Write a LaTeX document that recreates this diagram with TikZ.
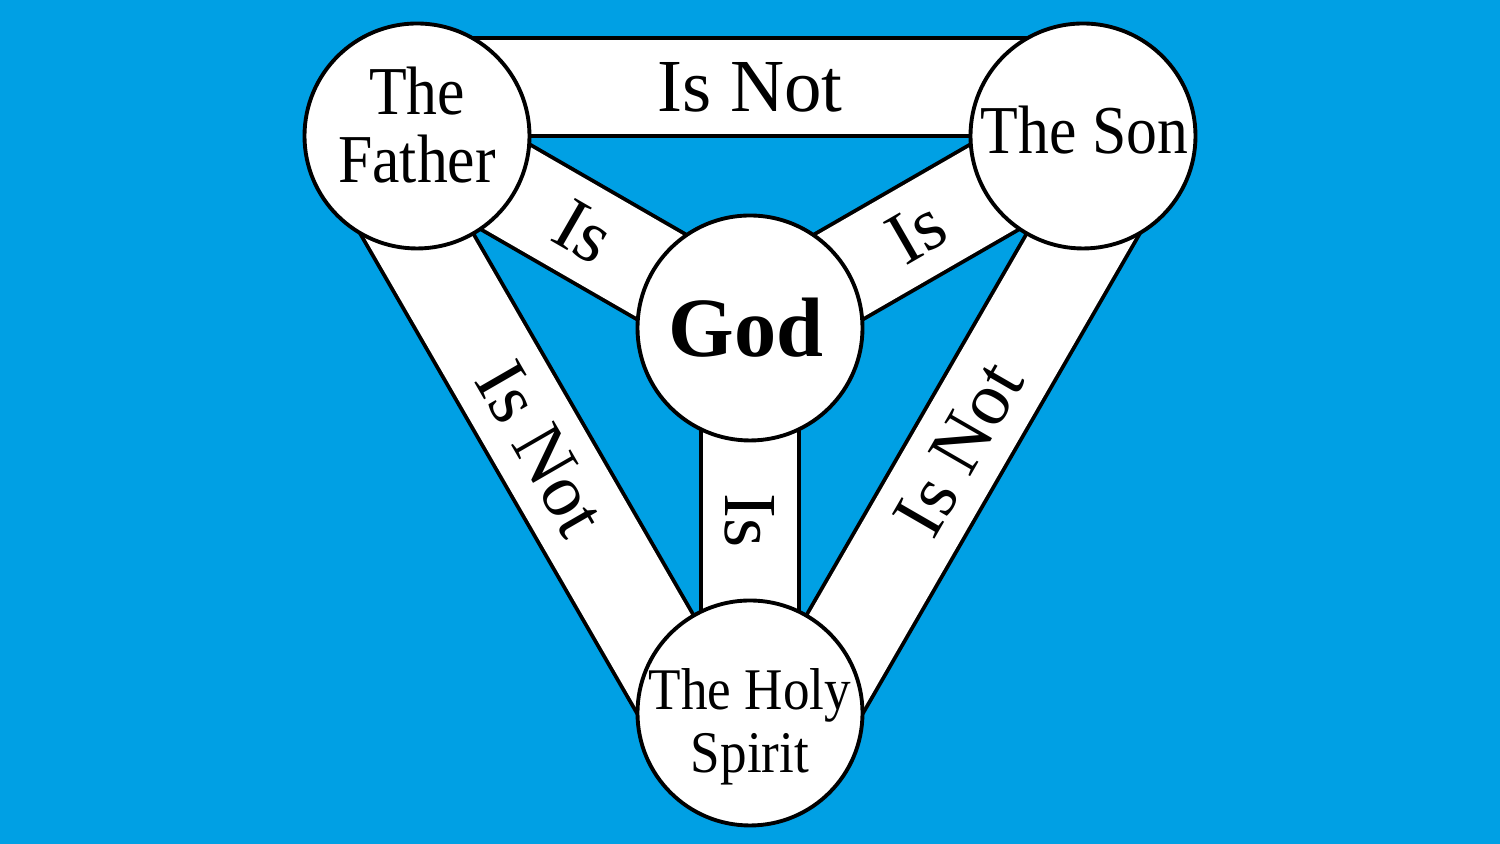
\documentclass[tikz,border=0pt]{standalone}
\usepackage{fontspec}
\usepackage{tikz}
\usepackage{xcolor}
\setmainfont{Liberation Serif}
\newfontfamily\namefont[FakeStretch=0.9]{Liberation Serif}
\usetikzlibrary{calc}
\definecolor{shieldblue}{RGB}{0, 160, 228}

\begin{document}
\begin{tikzpicture}[
    line width=1.1pt,
    disc/.style={circle, draw=black, fill=white, inner sep=0pt, minimum size=2.25cm},
    band/.style={draw=black, double=white, double distance=0.94cm},
    relation/.style={font=\fontsize{21.3}{25}\selectfont, inner sep=0pt},
    person/.style={font=\namefont\fontsize{19.5}{19.2}\selectfont, align=center, inner sep=0pt}
]

    % Background
    \useasboundingbox (0, 0) rectangle (15, 8.44);
    \fill[shieldblue] (0, 0) rectangle (15, 8.44);

    % Coordinates
    \coordinate (father) at (4.17, 7.08);
    \coordinate (son) at (10.83, 7.08);
    \coordinate (spirit) at (7.50, 1.31);
    \coordinate (god) at (7.50, 5.16);

    \coordinate (top left) at ($(father)!0.49cm!90:(son)$);
    \coordinate (top right) at ($(son)!0.49cm!-90:(father)$);
    \coordinate (left top) at ($(father)!0.49cm!-90:(spirit)$);
    \coordinate (left bottom) at ($(spirit)!0.49cm!90:(father)$);
    \coordinate (right top) at ($(son)!0.49cm!90:(spirit)$);
    \coordinate (right bottom) at ($(spirit)!0.49cm!-90:(son)$);

    % Outer bands
    \draw[band] (top left) -- (top right) node[midway, sloped, relation] {Is Not};
    \draw[band] (left top) -- (left bottom) node[midway, sloped, relation] {Is Not};
    \draw[band] (right top) -- (right bottom) node[midway, sloped, relation] {Is Not};

    % Inner bands
    \draw[band] (god) -- (father) node[midway, sloped, relation] {Is};
    \draw[band] (god) -- (son) node[midway, sloped, relation] {Is};
    \draw[band] (god) -- (spirit) node[midway, rotate=-90, relation] {Is};

    % Circles
    \node[disc] (father disc) at (father) {};
    \node[disc] (son disc) at (son) {};
    \node[disc] (spirit disc) at (spirit) {};
    \node[disc] (god disc) at (god) {};

    % Names
    \node[person] (father name) at ([yshift=0.11cm]father) {The\\Father};
    \node[person] (son name) at ([xshift=0.015cm, yshift=0.06cm]son) {The Son};
    \node[person, font=\namefont\fontsize{16.8}{17.9}\selectfont] (spirit name) at ([yshift=-0.14cm]spirit) {The Holy\\Spirit};
    \node[font=\bfseries\fontsize{24}{28}\selectfont, inner sep=0pt] (god name) at ([xshift=-0.04cm]god) {God};

\end{tikzpicture}
\end{document}
